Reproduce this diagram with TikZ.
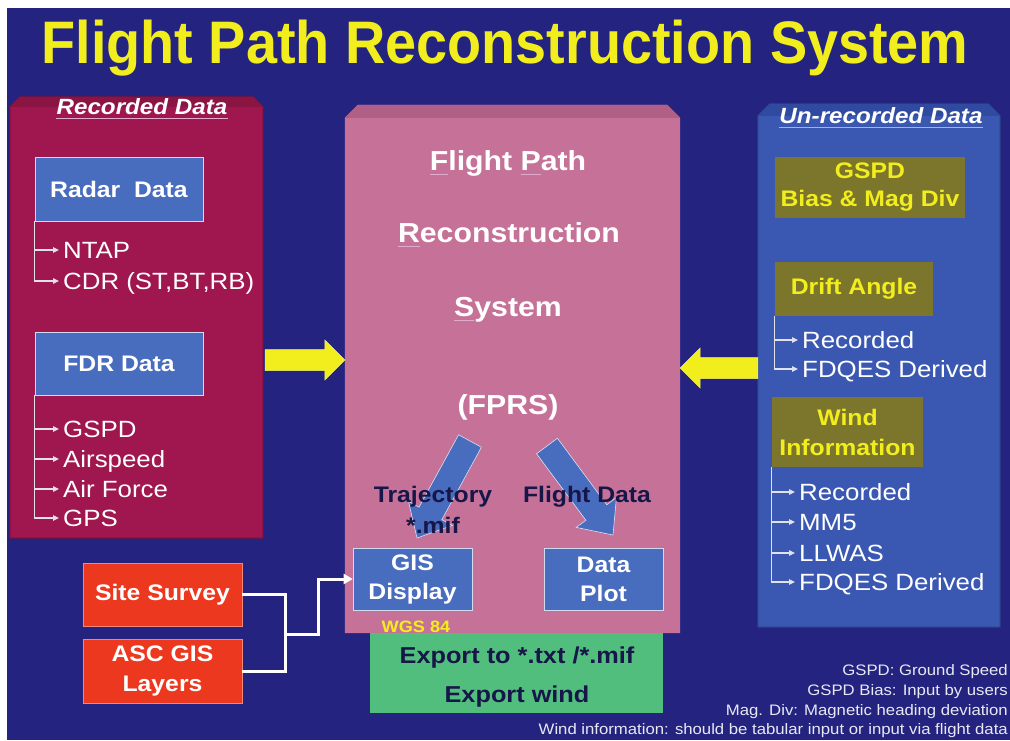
\documentclass[tikz,border=0pt]{standalone}
\usepackage{fontspec}
\setmainfont{Liberation Sans}[FakeStretch=1.1]
\newfontfamily\titlefont{Liberation Sans}[FakeStretch=0.93]
\usetikzlibrary{calc,arrows.meta}

\definecolor{navy}{RGB}{36,36,128}
\definecolor{crimson}{RGB}{160,22,78}
\definecolor{crimsontop}{RGB}{138,20,66}
\definecolor{pinkbox}{RGB}{198,114,152}
\definecolor{pinktop}{RGB}{176,96,134}
\definecolor{boxblue}{RGB}{72,108,190}
\definecolor{panelblue}{RGB}{58,88,178}
\definecolor{paneltop}{RGB}{48,74,160}
\definecolor{olive}{RGB}{124,118,44}
\definecolor{sunyellow}{RGB}{242,238,30}
\definecolor{mint}{RGB}{82,190,126}
\definecolor{flame}{RGB}{236,56,30}
\definecolor{inkblue}{RGB}{22,22,72}
\definecolor{ulpink}{RGB}{226,170,204}
\definecolor{ulblue}{RGB}{160,180,235}
\definecolor{treegray}{RGB}{225,225,235}
\definecolor{notegray}{RGB}{232,232,242}

\newcommand\fsize[2]{\fontsize{#1}{#2}\selectfont}
% underline the initial letter of a word in the heading
\newcommand\markfirst[1]{\setbox0\hbox{#1}\rlap{\color{ulpink}\rule[-5pt]{\wd0}{1.2pt}}\box0}
% block arrow: style, tail, tip, half shaft width, half head width, head length
\newcommand\fatarrow[6]{%
  \coordinate (fa-h) at ($(#3)!#6!(#2)$);
  \path[#1] ($(#2)!#4!90:(#3)$) -- ($(fa-h)!#4!90:(#3)$) -- ($(fa-h)!#5!90:(#3)$)
    -- (#3) -- ($(fa-h)!#5!-90:(#3)$) -- ($(fa-h)!#4!-90:(#3)$) -- ($(#2)!#4!-90:(#3)$) -- cycle;}

\tikzset{
  frame/.style={inner sep=0pt},
  bluebox/.style={fill=boxblue, draw=white!75!boxblue, line width=0.6pt, text=white,
    font=\bfseries\fsize{22.5}{29}, align=center, inner sep=0pt},
  olivebox/.style={fill=olive, text=sunyellow, font=\bfseries\fsize{22.5}{28},
    align=center, inner sep=0pt},
  redbox/.style={fill=flame, draw=flame!60!white, line width=0.6pt, text=white,
    font=\bfseries\fsize{22.5}{30}, align=center, inner sep=0pt},
  item/.style={font=\fsize{23.5}{23.5}, text=white, inner sep=0pt, anchor=base west,
    text height=16pt, text depth=0pt},
  tree/.style={draw=treegray, line width=1.1pt, -{Triangle[length=6pt,width=5.5pt]}},
  headline/.style={font=\bfseries\fsize{27.5}{27.5}, text=white, inner sep=0pt, anchor=base},
  darklabel/.style={font=\bfseries\fsize{22.5}{22.5}, text=inkblue, inner sep=0pt, anchor=base},
  paneltitle/.style={font=\bfseries\itshape\fsize{22}{22}, text=white, inner sep=0pt, anchor=base},
  wire/.style={draw=white, line width=3pt},
  note/.style={font=\fsize{15.2}{15.2}, text=notegray, inner sep=0pt, anchor=base east},
}

\begin{document}
\begin{tikzpicture}[x=1pt,y=-1pt]
\useasboundingbox (0,0) rectangle (1010,740);
\fill[white] (0,0) rectangle (1010,740);
\fill[navy] (7,8) rectangle (1010,740);

% title
\node[anchor=base, text=sunyellow, font=\titlefont\bfseries\fsize{60}{60}, inner sep=0pt]
  (title) at (505,63) {Flight Path Reconstruction System};

% ---------- recorded data panel ----------
\node[frame, minimum width=253, minimum height=441] (rec) at (136.5,317.5) {};
\fill[crimson, draw=crimson!75!black, line width=1pt]
  ([yshift=-10pt]rec.north west) -- ([xshift=10pt]rec.north west)
  -- ([xshift=-10pt]rec.north east) -- ([yshift=-10pt]rec.north east)
  -- (rec.south east) -- (rec.south west) -- cycle;
\fill[crimsontop]
  ([yshift=-10pt]rec.north west) -- ([xshift=10pt]rec.north west)
  -- ([xshift=-10pt]rec.north east) -- ([yshift=-10pt]rec.north east) -- cycle;
\node[paneltitle] (rect) at (142,114) {Recorded Data};
\draw[ulpink, line width=1.2pt] ([yshift=-4pt]rect.south west) -- ([yshift=-4pt]rect.south east);

\node[bluebox, minimum width=168, minimum height=64] (radar) at (119,189) {Radar~~Data};
\node[item] (ntap) at (63,258) {NTAP};
\node[item] (cdr) at (63,289) {CDR (ST,BT,RB)};
\draw[tree] (radar.south west) |- ([xshift=-4pt]ntap.west);
\draw[tree] (radar.south west) |- ([xshift=-4pt]cdr.west);

\node[bluebox, minimum width=168, minimum height=63] (fdr) at (119,363.5) {FDR Data};
\node[item] (fgspd) at (63,437) {GSPD};
\node[item] (fair) at (63,467) {Airspeed};
\node[item] (fforce) at (63,497) {Air Force};
\node[item] (fgps) at (63,526) {GPS};
\foreach \t in {fgspd,fair,fforce,fgps}
  \draw[tree] (fdr.south west) |- ([xshift=-4pt]\t.west);

% ---------- central system block ----------
\node[frame, minimum width=335, minimum height=528] (fprs) at (512.5,369) {};
\fill[pinkbox]
  ([yshift=-13pt]fprs.north west) -- ([xshift=13pt]fprs.north west)
  -- ([xshift=-13pt]fprs.north east) -- ([yshift=-13pt]fprs.north east)
  -- (fprs.south east) -- (fprs.south west) -- cycle;
\fill[pinktop]
  ([yshift=-13pt]fprs.north west) -- ([xshift=13pt]fprs.north west)
  -- ([xshift=-13pt]fprs.north east) -- ([yshift=-13pt]fprs.north east) -- cycle;

\node[headline] (h1) at (508,170) {\markfirst{F}light \markfirst{P}ath};
\node[headline] (h2) at (509,242) {\markfirst{R}econstruction};
\node[headline] (h3) at (508,316) {\markfirst{S}ystem};
\node[headline] (h4) at (508,414) {(FPRS)};

\coordinate (trajtail) at (470,441);
\coordinate (trajtip) at (417,538);
\coordinate (datatail) at (547,446);
\coordinate (datatip) at (613,535);
\fatarrow{fill=boxblue, draw=white!80!boxblue, line width=0.6pt}{trajtail}{trajtip}{13pt}{25pt}{28pt}
\fatarrow{fill=boxblue, draw=white!80!boxblue, line width=0.6pt}{datatail}{datatip}{13pt}{25pt}{28pt}

\node[darklabel] (traj) at (433,502) {Trajectory};
\node[darklabel] (mif) at (433,533) {*.mif};
\node[darklabel] (fdlab) at (587,502) {Flight Data};

\node[bluebox, minimum width=119, minimum height=62] (gis) at (412.5,579) {GIS\\Display};
\node[bluebox, minimum width=119, minimum height=62] (plot) at (603.5,579) {Data\\Plot};
\node[font=\bfseries\fsize{16.5}{16.5}, text=sunyellow, inner sep=0pt, anchor=base]
  (wgs) at (416,632) {WGS 84};

% export block
\node[frame, fill=mint, minimum width=293, minimum height=80] (export) at (516.5,673) {};
\node[darklabel, font=\bfseries\fsize{23}{23}] (ex1) at (517,663) {Export to *.txt /*.mif};
\node[darklabel, font=\bfseries\fsize{23}{23}] (ex2) at (517,702) {Export wind};

% ---------- un-recorded data panel ----------
\node[frame, minimum width=242, minimum height=523] (unrec) at (879,365.5) {};
\fill[panelblue, draw=panelblue!75!black, line width=1pt]
  ([yshift=-12pt]unrec.north west) -- ([xshift=12pt]unrec.north west)
  -- ([xshift=-12pt]unrec.north east) -- ([yshift=-12pt]unrec.north east)
  -- (unrec.south east) -- (unrec.south west) -- cycle;
\fill[paneltop]
  ([yshift=-12pt]unrec.north west) -- ([xshift=12pt]unrec.north west)
  -- ([xshift=-12pt]unrec.north east) -- ([yshift=-12pt]unrec.north east) -- cycle;
\node[paneltitle] (unt) at (881,123) {Un-recorded Data};
\draw[ulblue, line width=1pt] ([yshift=-4pt]unt.south west) -- ([yshift=-4pt]unt.south east);

\node[olivebox, minimum width=190, minimum height=61] (gspd) at (870,187.5) {GSPD\\Bias \& Mag Div};

\node[olivebox, minimum width=158, minimum height=54] (drift) at (854,289) {Drift Angle};
\node[item] (drec) at (802,348) {Recorded};
\node[item] (dfdq) at (802,377) {FDQES Derived};
\draw[tree] (drift.south west) |- ([xshift=-4pt]drec.west);
\draw[tree] (drift.south west) |- ([xshift=-4pt]dfdq.west);

\node[olivebox, minimum width=151, minimum height=70, font=\bfseries\fsize{22.5}{30}]
  (wind) at (847.5,432) {Wind\\Information};
\node[item] (wrec) at (799,500) {Recorded};
\node[item] (wmm) at (799,530) {MM5};
\node[item] (wll) at (799,561) {LLWAS};
\node[item] (wfdq) at (799,590) {FDQES Derived};
\foreach \t in {wrec,wmm,wll,wfdq}
  \draw[tree] (wind.south west) |- ([xshift=-4pt]\t.west);

% ---------- inputs into the system ----------
\coordinate (recout) at ([xshift=2pt,yshift=-42.5pt]rec.east);
\coordinate (fprsin) at ([yshift=9pt]fprs.west);
\coordinate (unout) at ([yshift=-2.5pt]unrec.west);
\coordinate (fprsin2) at ([yshift=1pt]fprs.east);
\fatarrow{fill=sunyellow, draw=sunyellow!70!white, line width=0.5pt}{recout}{fprsin}{10.5pt}{20pt}{20pt}
\fatarrow{fill=sunyellow, draw=sunyellow!70!white, line width=0.5pt}{unout}{fprsin2}{10.5pt}{20pt}{20pt}

% ---------- GIS sources ----------
\node[redbox, minimum width=159, minimum height=63] (site) at (162.5,594.5) {Site Survey};
\node[redbox, minimum width=159, minimum height=64] (asc) at (162.5,671) {ASC GIS\\Layers};
\coordinate (jn) at (285,634);
\coordinate (bend) at (318,634);
\draw[wire] (site.east) -| (jn) |- (asc.east);
\draw[wire, -{Triangle[length=9pt,width=10pt]}] (jn) -- (bend) |- (gis.west);

% ---------- notes ----------
\node[note] (n1) at (1008,675) {GSPD: Ground Speed};
\node[note] (n2) at (1008,695) {GSPD Bias: Input by users};
\node[note] (n3) at (1008,715) {Mag. Div: Magnetic heading deviation};
\node[note] (n4) at (1008,734) {Wind information: should be tabular input or input via flight data};
\end{tikzpicture}
\end{document}
